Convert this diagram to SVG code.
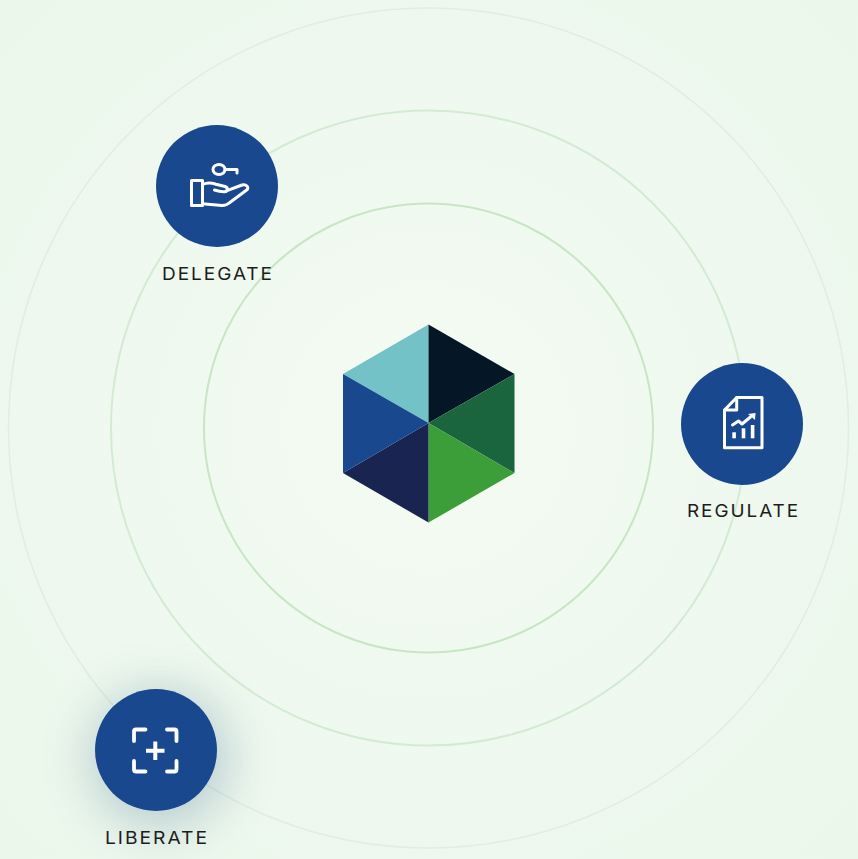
<svg xmlns="http://www.w3.org/2000/svg" width="858" height="859" viewBox="0 0 858 859">
<style>
.ring{fill:none}
.disc{fill:#19488f}
.ico{fill:none;stroke:#fff;stroke-width:3;stroke-linecap:round;stroke-linejoin:round}
.ico-s{fill:none;stroke:#fff;stroke-width:3.800;stroke-linecap:round;stroke-linejoin:round}
.bar{fill:#fff}
.lbl{font-family:"Inter","Liberation Sans",sans-serif;font-size:17.500px;font-weight:400;fill:#1c1d1c;letter-spacing:1.800px}
</style>
<defs>
<radialGradient id="bg" gradientUnits="userSpaceOnUse" cx="428.500" cy="428" r="600">
<stop offset="0" stop-color="#f4fbf4"/><stop offset="0.4" stop-color="#f0f9f0"/><stop offset="1" stop-color="#ebf7eb"/>
</radialGradient>
<filter id="glow" x="-100%" y="-100%" width="300%" height="300%"><feGaussianBlur stdDeviation="26"/></filter>
</defs>
<rect width="858" height="859" fill="url(#bg)"/>
<g id="rings">
<circle class="ring" cx="428.500" cy="428" r="420" stroke="#dfeedf" stroke-width="1.500"/>
<circle class="ring" cx="428.500" cy="428" r="317.500" stroke="#d3ebd2" stroke-width="2"/>
<circle class="ring" cx="428.500" cy="428" r="224.500" stroke="#c6e6c4" stroke-width="2"/>
</g>
<g id="hexagon">
<polygon points="428.500,324.500 428.500,423 343,374" fill="#72c2c8"/>
<polygon points="428.500,324.500 514.500,374 428.500,423" fill="#051626"/>
<polygon points="514.500,374 514.500,473 428.500,423" fill="#1b653e"/>
<polygon points="514.500,473 428.500,522.500 428.500,423" fill="#3c9e38"/>
<polygon points="428.500,522.500 343,473 428.500,423" fill="#192450"/>
<polygon points="343,473 343,374 428.500,423" fill="#19488f"/>
</g>
<g id="delegate">
<circle class="disc" cx="217" cy="186" r="61"/>
<g class="ico">
<ellipse cx="219" cy="169.500" rx="6" ry="5"/>
<path d="M225 169.500H237V173"/>
<rect x="191.500" y="180.500" width="11" height="25"/>
<path d="M202.500 184.500C207 182.500 212 183 216 184.200L225 186.500C228.500 187.800 228 191.500 224.500 191.700C221 191.900 218 191.200 214.500 190"/>
<path d="M227 190.700L242 185C246 183.600 249.500 187.500 247 189.800L229.500 202.800C227.500 204.800 225.500 205.500 222 205.500L202.500 203.800"/>
</g>
<text class="lbl" x="162" y="280.300" textLength="112" lengthAdjust="spacingAndGlyphs">DELEGATE</text>
</g>
<g id="regulate">
<circle class="disc" cx="742" cy="424" r="61"/>
<g class="ico" stroke-linejoin="miter">
<path d="M736.700 397.500H762V447.800H724.500V410Z"/>
<path d="M736.700 397.500V410H724.500"/>
<path d="M732.500 425L738.500 421L742 424L750.500 417"/>
</g>
<polygon class="bar" points="748,414 755.500,413 755,420"/>
<rect class="bar" x="732.300" y="432.300" width="3.600" height="6"/>
<rect class="bar" x="741.700" y="428.300" width="3.600" height="10"/>
<rect class="bar" x="750.800" y="425" width="3.600" height="13.300"/>
<text class="lbl" x="687" y="516.800" textLength="113" lengthAdjust="spacingAndGlyphs">REGULATE</text>
</g>
<g id="liberate">
<circle cx="160" cy="758" r="68" fill="#26567f" opacity="0.28" filter="url(#glow)"/>
<circle class="disc" cx="156" cy="750" r="61"/>
<g class="ico-s">
<path d="M134 741V731.500Q134 729.500 136 729.500H145.500"/>
<path d="M167 729.500H174.500Q176.500 729.500 176.500 731.500V741"/>
<path d="M134 761V769.500Q134 771.500 136 771.500H145.500"/>
<path d="M167 771.500H174.500Q176.500 771.500 176.500 769.500V761"/>
<path d="M146 750.700H164.500M155.300 741.500V760" stroke-linecap="butt" stroke-width="4"/>
</g>
<text class="lbl" x="105" y="844.300" textLength="104" lengthAdjust="spacingAndGlyphs">LIBERATE</text>
</g>
</svg>
